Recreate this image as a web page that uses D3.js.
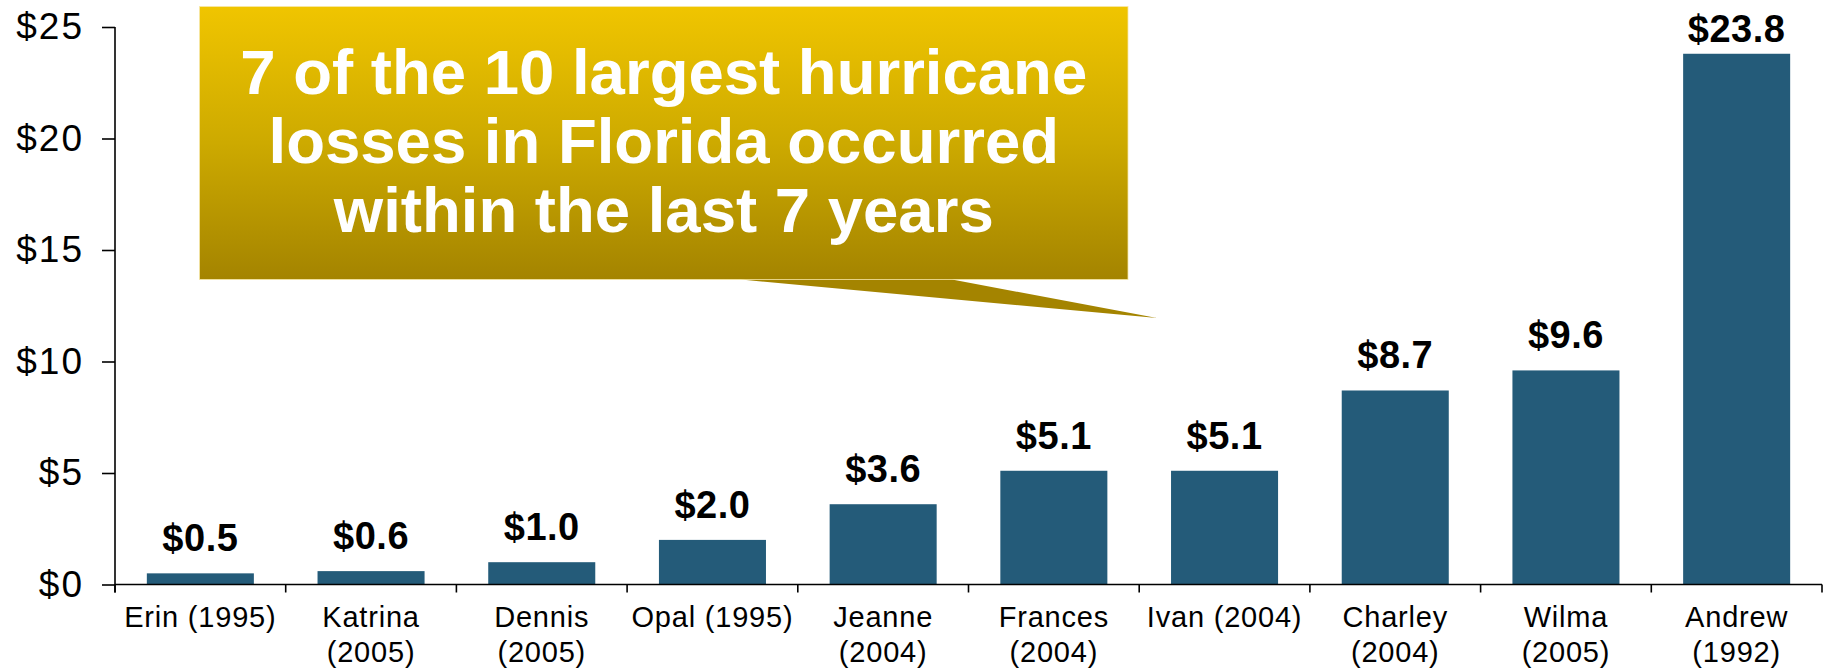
<!DOCTYPE html>
<html>
<head>
<meta charset="utf-8">
<script src="https://cdn.jsdelivr.net/npm/d3@7"></script>
<style>
  html, body { margin: 0; padding: 0; background: #fff; }
  svg { display: block; }
  text { font-family: "Liberation Sans", Arial, sans-serif; }
</style>
</head>
<body>
<svg id="chart" width="1823" height="670"></svg>
<script>
// Insured hurricane losses in Florida, $ billions
const storms = ["Erin", "Katrina", "Dennis", "Opal", "Jeanne", "Frances", "Ivan", "Charley", "Wilma", "Andrew"];
const years = ["1995", "2005", "2005", "1995", "2004", "2004", "2004", "2004", "2005", "1992"];
const losses = [0.5, 0.6, 1.0, 2.0, 3.6, 5.1, 5.1, 8.7, 9.6, 23.8];
const yTicks = [0, 5, 10, 15, 20, 25];
// categories whose name and year fit on one line
const singleLine = ["Erin", "Opal", "Ivan"];
const calloutLines = [
  "7 of the 10 largest hurricane",
  "losses in Florida occurred",
  "within the last 7 years"
];

const svg = d3.select("#chart");
const plotLeft = 115, plotRight = 1822, plotTop = 27, plotBottom = 584.5;

const x = d3.scaleBand()
  .domain(storms)
  .range([plotLeft, plotRight])
  .paddingInner(0.373)
  .paddingOuter(0.1865);

const y = d3.scaleLinear().domain([0, 25]).range([plotBottom, plotTop]);

// bars
svg.append("g")
  .selectAll("rect")
  .data(storms)
  .join("rect")
  .attr("x", d => x(d))
  .attr("y", (d, i) => y(losses[i]))
  .attr("width", x.bandwidth())
  .attr("height", (d, i) => y(0) - y(losses[i]))
  .attr("fill", "#245B79");

// value labels above bars
svg.append("g")
  .selectAll("text")
  .data(storms)
  .join("text")
  .attr("x", d => x(d) + x.bandwidth() / 2)
  .attr("y", (d, i) => Math.max(y(losses[i]) - 22, 42))
  .attr("text-anchor", "middle")
  .attr("font-size", 38)
  .attr("font-weight", "bold")
  .attr("letter-spacing", 0.5)
  .attr("fill", "#000")
  .text((d, i) => "$" + losses[i].toFixed(1));

// y axis
const yAxis = svg.append("g")
  .attr("transform", `translate(${plotLeft},0)`)
  .call(d3.axisLeft(y).tickValues(yTicks).tickSize(13).tickPadding(18).tickFormat(d => "$" + d));
yAxis.select(".domain").attr("d", `M0,${plotTop}V${plotBottom + 8}`);
yAxis.selectAll("path, line").attr("stroke", "#000").attr("stroke-width", 1.6);
yAxis.selectAll("text")
  .attr("font-size", 37)
  .attr("letter-spacing", 2)
  .attr("fill", "#000")
  .attr("font-family", "'Liberation Sans', Arial, sans-serif");

// x axis with ticks at category boundaries
const boundaries = storms.map(d => x(d) - x.step() * x.paddingInner() / 2).concat([plotRight]);
const xAxisG = svg.append("g");
xAxisG.append("line")
  .attr("x1", plotLeft).attr("x2", plotRight)
  .attr("y1", y(0)).attr("y2", y(0))
  .attr("stroke", "#000").attr("stroke-width", 1.6);
xAxisG.selectAll("line.tick")
  .data(boundaries)
  .join("line")
  .attr("class", "tick")
  .attr("x1", d => d).attr("x2", d => d)
  .attr("y1", y(0)).attr("y2", y(0) + 8)
  .attr("stroke", "#000").attr("stroke-width", 1.6);

// category labels
const catLabels = svg.append("g")
  .selectAll("text")
  .data(storms)
  .join("text")
  .attr("x", d => x(d) + x.bandwidth() / 2)
  .attr("y", 627)
  .attr("text-anchor", "middle")
  .attr("font-size", 29)
  .attr("letter-spacing", 0.8)
  .attr("fill", "#000");
catLabels.each(function(d, i) {
  const t = d3.select(this);
  const cx = x(d) + x.bandwidth() / 2;
  if (singleLine.includes(d)) {
    t.text(`${d} (${years[i]})`);
  } else {
    t.append("tspan").attr("x", cx).text(d);
    t.append("tspan").attr("x", cx).attr("dy", 35).text(`(${years[i]})`);
  }
});

// callout box with pointer
const defs = svg.append("defs");
const grad = defs.append("linearGradient")
  .attr("id", "gold")
  .attr("gradientUnits", "userSpaceOnUse")
  .attr("x1", 0).attr("y1", 6).attr("x2", 0).attr("y2", 279);
grad.append("stop").attr("offset", 0).attr("stop-color", "#F0C500");
grad.append("stop").attr("offset", 0.5).attr("stop-color", "#CDAA00");
grad.append("stop").attr("offset", 1).attr("stop-color", "#A48400");

const bx0 = 199.5, bx1 = 1128, by0 = 6.5, by1 = 279.5;
const callout = svg.append("g");
callout.append("path")
  .attr("d", `M${bx0},${by0}H${bx1}V${by1}H952L1157,318L741,${by1}H${bx0}Z`)
  .attr("fill", "url(#gold)");
callout.append("rect")
  .attr("x", bx0).attr("y", by0)
  .attr("width", bx1 - bx0).attr("height", by1 - by0)
  .attr("fill", "none")
  .attr("stroke", "#F6E7A8")
  .attr("stroke-width", 1)
  .attr("stroke-opacity", 0.8);
callout.selectAll("text")
  .data(calloutLines)
  .join("text")
  .attr("x", (bx0 + bx1) / 2)
  .attr("y", (d, i) => 94 + i * 69)
  .attr("text-anchor", "middle")
  .attr("font-size", 63.5)
  .attr("font-weight", "bold")
  .attr("fill", "#fff")
  .text(d => d);
</script>
</body>
</html>
